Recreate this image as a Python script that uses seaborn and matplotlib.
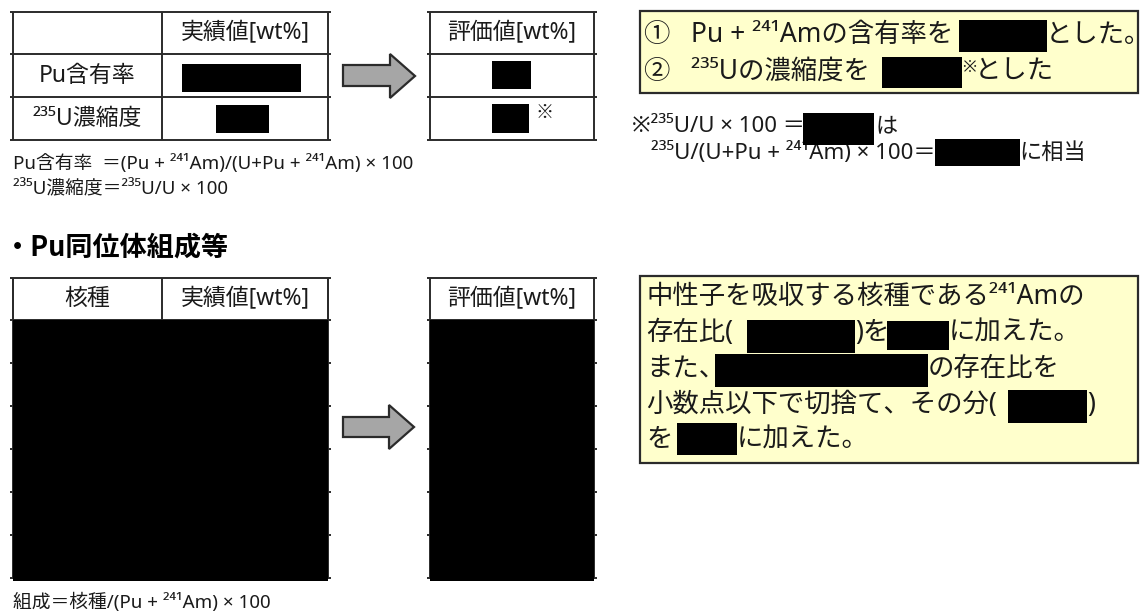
import matplotlib
matplotlib.use("Agg")
import matplotlib.pyplot as plt
import seaborn as sns
from matplotlib.patches import Rectangle, Polygon

sns.set_theme(style="white")
FONT = ["Noto Sans", "Noto Sans CJK JP", "DejaVu Sans"]
CJK_BOLD = ["Noto Sans CJK JP", "DejaVu Sans"]
plt.rcParams["font.family"] = FONT

# ---------------- content ----------------
top_headers = ["", "実績値[wt%]"]
top_rows = ["Pu含有率", "²³⁵U濃縮度"]
eval_header = "評価値[wt%]"
eval_mark = "※"
formula_lines = ["Pu含有率  ＝(Pu + ²⁴¹Am)/(U+Pu + ²⁴¹Am) × 100",
                 "²³⁵U濃縮度＝²³⁵U/U × 100"]
heading = "・Pu同位体組成等"
bottom_headers = ["核種", "実績値[wt%]"]
n_bottom_rows = 6
footer = "組成＝核種/(Pu + ²⁴¹Am) × 100"

# text pieces of the boxes (black redaction boxes sit between them)
box1_line1 = ["①   Pu + ²⁴¹Amの含有率を", "とした｡"]
box1_line2 = ["②   ²³⁵Uの濃縮度を", "※", "とした"]
note_line1 = ["※²³⁵U/U × 100 ＝", "は"]
note_line2 = ["²³⁵U/(U+Pu + ²⁴¹Am) × 100＝", "に相当"]
box2_lines = [["中性子を吸収する核種である²⁴¹Amの"],
              ["存在比(", None, ")を", None, "に加えた。"],
              ["また、", None, "の存在比を"],
              ["小数点以下で切捨て、その分(", None, ")"],
              ["を", None, "に加えた。"]]

# ---------------- layout (pixels) ----------------
W, H = 1142, 616
fig = plt.figure(figsize=(W / 100, H / 100), dpi=100)
ax = fig.add_axes([0, 0, 1, 1])
ax.set_xlim(0, W)
ax.set_ylim(H, 0)
ax.axis("off")

LC = "#2b2b2b"
LW = 1.4


def hline(y, x0, x1):
    ax.plot([x0, x1], [y, y], color=LC, lw=LW, solid_capstyle="butt")


def vline(x, y0, y1):
    ax.plot([x, x], [y0, y1], color=LC, lw=LW, solid_capstyle="butt")


def black(x0, y0, x1, y1):
    ax.add_patch(Rectangle((x0, y0), x1 - x0, y1 - y0, facecolor="black",
                           edgecolor="none", zorder=4))


def txt(x, y, s, size, ha="left", weight="normal", color="#1a1a1a", family=FONT):
    ax.text(x, y, s, fontsize=size, ha=ha, va="center", family=family,
            fontweight=weight, color=color, zorder=3)


def arrow(x0, x1, xt, ys0, ys1, yh0, yh1):
    yc = (yh0 + yh1) / 2
    pts = [(x0, ys0), (x1, ys0), (x1, yh0), (xt, yc), (x1, yh1), (x1, ys1), (x0, ys1)]
    ax.add_patch(Polygon(pts, closed=True, facecolor="#a6a6a6", edgecolor=LC,
                         lw=1.6, joinstyle="miter", zorder=3))


def segmented(x, y, segs, redacts, size):
    ri = 0
    cx = x
    for s in segs:
        if s is None:
            rx0, ry0, rx1, ry1 = redacts[ri]
            black(rx0, ry0, rx1, ry1)
            cx = rx1
            ri += 1
        else:
            txt(cx, y, s, size)


# ---- top table ----
tx0, tdiv, tx1 = 13, 162, 328
rows_y = [12, 54, 97, 140]
for y in rows_y:
    hline(y, tx0 - 3, tx1 + 3)
for x in (tx0, tdiv, tx1):
    vline(x, rows_y[0], rows_y[-1])
TS = 16.5
txt((tdiv + tx1) / 2, 33, top_headers[1], TS, ha="center")
txt((tx0 + tdiv) / 2, 76, top_rows[0], TS, ha="center")
txt((tx0 + tdiv) / 2, 119, top_rows[1], TS, ha="center")
black(182, 64, 301, 92)
black(216, 105, 269, 133)

arrow(343, 390, 415, 65, 86, 54, 98)

ex0, ex1 = 430, 594
for y in rows_y:
    hline(y, ex0 - 3, ex1 + 3)
for x in (ex0, ex1):
    vline(x, rows_y[0], rows_y[-1])
txt((ex0 + ex1) / 2, 33, eval_header, TS, ha="center")
black(492, 61, 531, 89)
black(492, 104, 529, 133)
txt(535, 112, eval_mark, 13, weight="bold", family=CJK_BOLD)

# ---- top yellow box ----
ax.add_patch(Rectangle((640, 11), 1138 - 640, 93 - 11, facecolor="#ffffcc",
                       edgecolor=LC, lw=1.6, zorder=2))
BS = 19
y1, y2 = 35, 72
txt(644, y1, box1_line1[0], BS)
black(959, 20, 1047, 52)
txt(1046, y1, box1_line1[1], BS)

txt(644, y2, box1_line2[0], BS)
black(882, 57, 962, 88)
txt(962, y2 - 4, box1_line2[1], 12)
txt(975, y2, box1_line2[2], BS)

# ---- note ----
NS = 16
txt(632, 127, note_line1[0], NS)
black(803, 113, 874, 145)
txt(876, 127, note_line1[1], NS)
txt(936, 153, note_line2[0], NS, ha="right")
black(935, 139, 1020, 166)
txt(1019, 153, note_line2[1], NS)

# ---- formulas ----
txt(13, 163, formula_lines[0], 13.5)
txt(13, 189, formula_lines[1], 13.5)

# ---- heading ----
txt(4, 247, heading, 19.5, weight="bold", color="black", family=CJK_BOLD)

# ---- bottom tables ----
by0, bh = 278, 320
row_h = 43
bottom_y = [by0, bh] + [bh + row_h * (i + 1) for i in range(n_bottom_rows)]
for y in bottom_y:
    hline(y, tx0 - 3, tx1 + 3)
    hline(y, ex0 - 3, ex1 + 3)
for x in (tx0, tdiv, tx1):
    vline(x, by0, bh)
for x in (tx0, tx1):
    vline(x, by0, bottom_y[-1])
for x in (ex0, ex1):
    vline(x, by0, bottom_y[-1])
txt((tx0 + tdiv) / 2, 299, bottom_headers[0], TS, ha="center")
txt((tdiv + tx1) / 2, 299, bottom_headers[1], TS, ha="center")
txt((ex0 + ex1) / 2, 299, eval_header, TS, ha="center")
black(tx0, bh, tx1, bottom_y[-1] + 3)
black(ex0, bh, ex1, bottom_y[-1] + 3)

arrow(343, 389, 414, 417, 437, 405, 449)

txt(13, 602, footer, 13.5)

# ---- bottom yellow box ----
ax.add_patch(Rectangle((640, 276), 1138 - 640, 463 - 276, facecolor="#ffffcc",
                       edgecolor=LC, lw=1.6, zorder=2))
b2_y = [297, 333, 369, 405, 440]
b2_red = [[],
          [(747, 320, 855, 353), (887, 321, 949, 350)],
          [(715, 354, 928, 387)],
          [(1008, 390, 1087, 423)],
          [(677, 423, 737, 455)]]
for segs, y, reds in zip(box2_lines, b2_y, b2_red):
    segmented(646, y, segs, reds, 19)

fig.savefig("out.png", dpi=100)
